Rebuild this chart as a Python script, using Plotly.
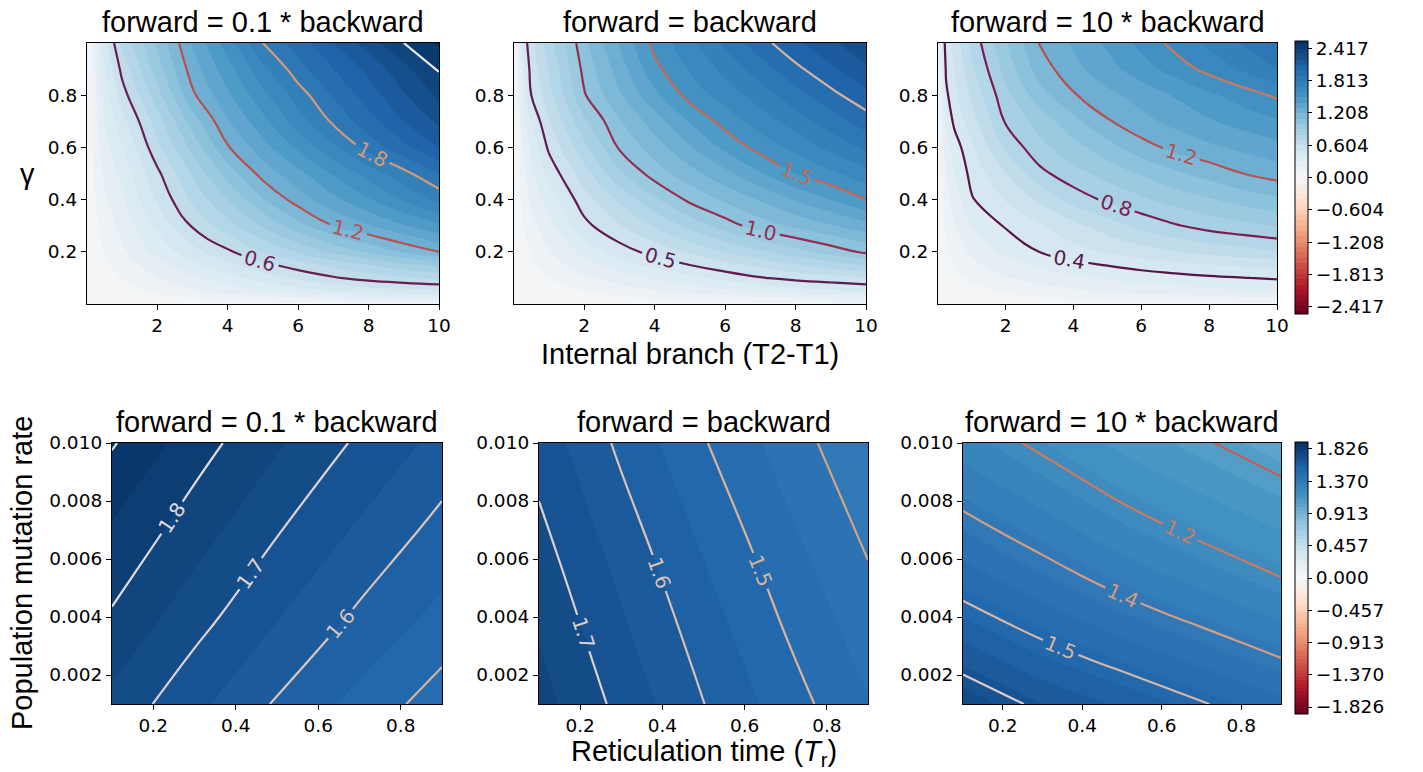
import plotly.graph_objects as go

W, H = 1423, 772

# ---------------- data ----------------
top_x = [0.01, 0.05, 0.25, 0.5, 1, 2, 3, 4, 5, 6, 7, 8, 9, 10]
top_gamma = [0.001, 0.05, 0.1, 0.15, 0.2, 0.3, 0.4, 0.5, 0.6, 0.7, 0.8, 0.9, 0.999]

z_top_tenth = [
    [0.0005, 0.001, 0.003, 0.005, 0.01, 0.02, 0.03, 0.04, 0.05, 0.06, 0.07, 0.08, 0.09, 0.10],
    [0.0005, 0.002, 0.013, 0.03, 0.06, 0.12, 0.18, 0.24, 0.30, 0.35, 0.40, 0.44, 0.46, 0.47],
    [0.001, 0.005, 0.025, 0.05, 0.10, 0.19, 0.28, 0.36, 0.44, 0.52, 0.585, 0.64, 0.68, 0.72],
    [0.002, 0.007, 0.04, 0.075, 0.14, 0.26, 0.37, 0.47, 0.57, 0.65, 0.73, 0.80, 0.87, 0.93],
    [0.002, 0.01, 0.05, 0.10, 0.18, 0.33, 0.46, 0.58, 0.70, 0.81, 0.92, 1.02, 1.11, 1.20],
    [0.003, 0.013, 0.075, 0.14, 0.23, 0.42, 0.61, 0.76, 0.91, 1.06, 1.20, 1.29, 1.39, 1.48],
    [0.004, 0.015, 0.10, 0.18, 0.28, 0.51, 0.72, 0.90, 1.09, 1.25, 1.37, 1.49, 1.61, 1.73],
    [0.004, 0.017, 0.12, 0.22, 0.33, 0.575, 0.81, 1.04, 1.24, 1.37, 1.51, 1.64, 1.77, 1.90],
    [0.005, 0.02, 0.14, 0.26, 0.39, 0.67, 0.93, 1.19, 1.36, 1.52, 1.68, 1.84, 1.97, 2.10],
    [0.006, 0.022, 0.16, 0.30, 0.46, 0.75, 1.05, 1.29, 1.47, 1.65, 1.82, 1.96, 2.10, 2.22],
    [0.006, 0.025, 0.18, 0.34, 0.55, 0.86, 1.18, 1.38, 1.57, 1.75, 1.91, 2.05, 2.19, 2.32],
    [0.008, 0.03, 0.20, 0.38, 0.63, 0.95, 1.25, 1.46, 1.67, 1.86, 2.00, 2.13, 2.27, 2.41],
    [0.01, 0.04, 0.22, 0.45, 0.72, 1.02, 1.31, 1.55, 1.80, 1.95, 2.10, 2.25, 2.40, 2.52],
]

z_top_equal = [
    [0.0005, 0.001, 0.003, 0.005, 0.01, 0.02, 0.03, 0.04, 0.05, 0.055, 0.065, 0.075, 0.08, 0.09],
    [0.0005, 0.002, 0.012, 0.025, 0.05, 0.10, 0.14, 0.19, 0.23, 0.27, 0.31, 0.35, 0.38, 0.40],
    [0.0015, 0.006, 0.03, 0.055, 0.10, 0.18, 0.25, 0.31, 0.37, 0.43, 0.49, 0.53, 0.56, 0.59],
    [0.0025, 0.01, 0.045, 0.08, 0.15, 0.26, 0.35, 0.43, 0.50, 0.57, 0.63, 0.69, 0.75, 0.81],
    [0.003, 0.013, 0.06, 0.11, 0.19, 0.33, 0.45, 0.536, 0.617, 0.70, 0.78, 0.86, 0.94, 1.02],
    [0.005, 0.02, 0.09, 0.16, 0.27, 0.47, 0.59, 0.71, 0.83, 0.95, 1.05, 1.12, 1.19, 1.26],
    [0.006, 0.025, 0.12, 0.22, 0.35, 0.555, 0.717, 0.88, 1.024, 1.12, 1.21, 1.31, 1.40, 1.50],
    [0.008, 0.03, 0.16, 0.28, 0.43, 0.66, 0.88, 1.05, 1.16, 1.27, 1.39, 1.50, 1.58, 1.66],
    [0.01, 0.04, 0.20, 0.33, 0.52, 0.77, 1.014, 1.15, 1.29, 1.425, 1.54, 1.63, 1.73, 1.82],
    [0.012, 0.05, 0.25, 0.41, 0.59, 0.88, 1.09, 1.25, 1.41, 1.54, 1.65, 1.75, 1.85, 1.95],
    [0.015, 0.06, 0.31, 0.50, 0.66, 0.99, 1.185, 1.376, 1.538, 1.645, 1.75, 1.86, 1.97, 2.07],
    [0.018, 0.07, 0.36, 0.54, 0.71, 1.03, 1.25, 1.47, 1.61, 1.73, 1.85, 1.975, 2.08, 2.18],
    [0.02, 0.08, 0.42, 0.57, 0.76, 1.07, 1.31, 1.53, 1.67, 1.82, 1.96, 2.08, 2.18, 2.28],
]

z_top_ten = [
    [0.0005, 0.002, 0.007, 0.012, 0.02, 0.03, 0.04, 0.045, 0.05, 0.055, 0.06, 0.065, 0.07, 0.075],
    [0.003, 0.01, 0.03, 0.05, 0.07, 0.11, 0.15, 0.18, 0.21, 0.235, 0.255, 0.275, 0.295, 0.31],
    [0.004, 0.013, 0.045, 0.08, 0.12, 0.19, 0.24, 0.28, 0.31, 0.34, 0.36, 0.38, 0.395, 0.41],
    [0.006, 0.02, 0.06, 0.11, 0.17, 0.26, 0.32, 0.365, 0.405, 0.44, 0.47, 0.495, 0.52, 0.54],
    [0.008, 0.025, 0.08, 0.14, 0.22, 0.32, 0.40, 0.46, 0.51, 0.555, 0.595, 0.63, 0.66, 0.69],
    [0.012, 0.04, 0.12, 0.19, 0.30, 0.41, 0.49, 0.57, 0.65, 0.73, 0.79, 0.84, 0.875, 0.905],
    [0.016, 0.05, 0.16, 0.25, 0.39, 0.505, 0.619, 0.74, 0.82, 0.88, 0.94, 0.99, 1.04, 1.08],
    [0.022, 0.07, 0.20, 0.30, 0.433, 0.596, 0.77, 0.865, 0.94, 1.01, 1.08, 1.14, 1.20, 1.245],
    [0.03, 0.09, 0.25, 0.35, 0.48, 0.72, 0.87, 0.965, 1.06, 1.16, 1.23, 1.28, 1.325, 1.365],
    [0.04, 0.12, 0.32, 0.426, 0.557, 0.81, 0.937, 1.07, 1.19, 1.27, 1.33, 1.39, 1.44, 1.49],
    [0.05, 0.15, 0.38, 0.468, 0.62, 0.87, 1.06, 1.19, 1.275, 1.34, 1.41, 1.48, 1.55, 1.62],
    [0.06, 0.18, 0.417, 0.504, 0.678, 0.937, 1.147, 1.269, 1.361, 1.453, 1.545, 1.635, 1.72, 1.80],
    [0.10, 0.25, 0.44, 0.536, 0.73, 0.985, 1.205, 1.314, 1.42, 1.53, 1.634, 1.72, 1.81, 1.90],
]

bot_tr = [0.1, 0.3, 0.5, 0.7, 0.9]
bot_mu_tenth = [0.001, 0.004, 0.007, 0.010]
bot_mu_equal = [0.001, 0.0055, 0.010]
bot_mu_ten = [0.001, 0.0025, 0.004, 0.0055, 0.007, 0.0085, 0.010]

z_bot_tenth = [
    [1.735, 1.664, 1.594, 1.534, 1.474],
    [1.794, 1.720, 1.653, 1.590, 1.535],
    [1.844, 1.774, 1.704, 1.643, 1.583],
    [1.905, 1.823, 1.756, 1.691, 1.634],
]
z_bot_equal = [
    [1.770, 1.685, 1.601, 1.525, 1.453],
    [1.726, 1.639, 1.555, 1.477, 1.405],
    [1.679, 1.589, 1.504, 1.428, 1.356],
]
z_bot_ten = [
    [1.735, 1.650, 1.590, 1.526, 1.465],
    [1.639, 1.559, 1.497, 1.436, 1.375],
    [1.549, 1.477, 1.409, 1.350, 1.293],
    [1.471, 1.400, 1.331, 1.273, 1.213],
    [1.399, 1.330, 1.261, 1.200, 1.149],
    [1.333, 1.266, 1.195, 1.140, 1.084],
    [1.272, 1.202, 1.135, 1.079, 1.023],
]

panel_titles = ["forward = 0.1 * backward", "forward = backward", "forward = 10 * backward"]

levels_top_tenth = [0.6, 1.2, 1.8, 2.4]
levels_top_equal = [0.5, 1.0, 1.5, 2.0]
levels_top_ten = [0.4, 0.8, 1.2, 1.6]
levels_bot_tenth = [1.5, 1.6, 1.7, 1.8, 1.9]
levels_bot_equal = [1.4, 1.5, 1.6, 1.7]
levels_bot_ten = [1.07, 1.22, 1.37, 1.52, 1.67]

top_cbar_ticks = [-2.417, -1.813, -1.208, -0.604, 0.0, 0.604, 1.208, 1.813, 2.417]
bot_cbar_ticks = [-1.826, -1.370, -0.913, -0.457, 0.0, 0.457, 0.913, 1.370, 1.826]

top_xticks = [2, 4, 6, 8, 10]
top_yticks = [0.2, 0.4, 0.6, 0.8]
bot_xticks = [0.2, 0.4, 0.6, 0.8]
bot_yticks = [0.002, 0.004, 0.006, 0.008, 0.010]

# ---------------- styles ----------------
RDBU = [[0.0, '#67001f'], [0.1, '#b2182b'], [0.2, '#d6604d'], [0.3, '#f4a582'],
        [0.4, '#fddbc7'], [0.5, '#f7f7f7'], [0.6, '#d1e5f0'], [0.7, '#92c5de'],
        [0.8, '#4393c3'], [0.9, '#2166ac'], [1.0, '#053061']]

line_colors = {
    'tt': ['#6a1f52', '#b8504f', '#d49a77', '#efebef'],
    'te': ['#611c50', '#952f52', '#c46955', '#d9b4a0'],
    'tn': ['#571646', '#7a1e50', '#b8504f', '#cc7a5e'],
    'bt': ['#d6b2a0', '#dcc4ba', '#e0d2d2', '#e0d9e0', '#e4e0e8'],
    'be': ['#d3a386', '#d8b39c', '#dcc2b4', '#e0d0cc'],
    'bn': ['#c4614e', '#cd7a5f', '#d49c80', '#d9b6a4', '#ddcbc6'],
}
label_show = {
    'tt': [True, True, True, False],
    'te': [True, True, True, True],
    'tn': [True, True, True, True],
    'bt': [False, True, True, True, False],
    'be': [True, True, True, True],
    'bn': [True, True, True, True, True],
}
# smaller label font for the short contour segments so that a label fits on them
label_size = {
    'tt': [20, 20, 20, 20],
    'te': [20, 20, 20, 16],
    'tn': [20, 20, 20, 16],
    'bt': [20, 20, 20, 20, 20],
    'be': [16, 20, 20, 20],
    'bn': [16, 20, 20, 20, 16],
}

TICKFONT = dict(family='DejaVu Sans', size=18.5, color='black')
TEXTFONT = 'Liberation Sans, Arial, sans-serif'

# panel boxes in pixels: (left, right, top, bottom)
boxes = {
    'tt': (87, 439, 43, 304), 'te': (514, 866, 43, 304), 'tn': (938, 1277, 43, 304),
    'bt': (112, 442, 443, 704), 'be': (539, 868, 443, 704), 'bn': (963, 1281, 443, 704),
}
panels = [
    ('tt', top_x, top_gamma, z_top_tenth, levels_top_tenth, 'top'),
    ('te', top_x, top_gamma, z_top_equal, levels_top_equal, 'top'),
    ('tn', top_x, top_gamma, z_top_ten, levels_top_ten, 'top'),
    ('bt', bot_tr, bot_mu_tenth, z_bot_tenth, levels_bot_tenth, 'bot'),
    ('be', bot_tr, bot_mu_equal, z_bot_equal, levels_bot_equal, 'bot'),
    ('bn', bot_tr, bot_mu_ten, z_bot_ten, levels_bot_ten, 'bot'),
]

fig = go.Figure()
layout = dict(width=W, height=H,
              margin=dict(l=0, r=0, t=0, b=0, pad=0, autoexpand=False),
              paper_bgcolor='white', plot_bgcolor='white', showlegend=False)


def cbar(ticks, top_px, bot_px):
    return dict(x=1295 / W, xanchor='left', xpad=0, ypad=0,
                y=1 - (top_px + bot_px) / 2 / H, yanchor='middle',
                len=bot_px - top_px, lenmode='pixels', thickness=13,
                outlinewidth=1, outlinecolor='black',
                ticks='outside', ticklen=4, tickwidth=1, tickcolor='black',
                tickvals=ticks,
                ticktext=[f"{v:.3f}".replace('-', '\u2212') for v in ticks],
                tickfont=TICKFONT)


for i, (key, xs, ys, z, levels, row) in enumerate(panels):
    n = '' if i == 0 else str(i + 1)
    xa, ya = 'x' + n, 'y' + n
    l, r, t, b = boxes[key]
    if row == 'top':
        start, end, size = -2.5, 2.5, 0.1
        show = key == 'tn'
        cb = cbar(top_cbar_ticks, 41, 314)
    else:
        start, end, size = -1.9, 1.9, 0.05
        show = key == 'bn'
        cb = cbar(bot_cbar_ticks, 442, 714)
    fig.add_trace(go.Contour(
        x=xs, y=ys, z=z, colorscale=RDBU, autocontour=False,
        contours=dict(start=start, end=end, size=size, coloring='fill', showlines=False),
        line=dict(width=0, smoothing=1.3), showscale=show, colorbar=cb,
        hoverinfo='skip', xaxis=xa, yaxis=ya))
    for lev, col, lab, lsz in zip(levels, line_colors[key], label_show[key], label_size[key]):
        fig.add_trace(go.Contour(
            x=xs, y=ys, z=z, autocontour=False, showscale=False,
            contours=dict(start=lev, end=lev, size=1, coloring='none',
                          showlabels=lab, labelformat='.1f',
                          labelfont=dict(family='DejaVu Sans', size=lsz, color=col)),
            line=dict(color=col, width=2.2, smoothing=1.3),
            hoverinfo='skip', xaxis=xa, yaxis=ya))

    axcommon = dict(showline=True, mirror=True, linecolor='black', linewidth=1.2,
                    ticks='outside', ticklen=5, tickwidth=1.2, tickcolor='black',
                    showgrid=False, zeroline=False, tickfont=TICKFONT, automargin=False)
    if row == 'top':
        xr, yr = [top_x[0], top_x[-1]], [top_gamma[0], top_gamma[-1]]
        xt, yt, yfmt = top_xticks, top_yticks, None
    else:
        xr, yr = [bot_tr[0], bot_tr[-1]], [ys[0], ys[-1]]
        xt, yt, yfmt = bot_xticks, bot_yticks, '.3f'
    xkey = 'xaxis' + n
    ykey = 'yaxis' + n
    layout[xkey] = dict(domain=[l / W, r / W], anchor=ya, range=xr, tickvals=xt, **axcommon)
    yd = dict(domain=[1 - b / H, 1 - t / H], anchor=xa, range=yr, tickvals=yt, **axcommon)
    if yfmt:
        yd['tickformat'] = yfmt
    layout[ykey] = yd

fig.update_layout(**layout)


def ann(text, px, py, size=29, angle=0):
    fig.add_annotation(text=text, x=px / W, y=1 - py / H, xref='paper', yref='paper',
                       xanchor='center', yanchor='middle', showarrow=False, textangle=angle,
                       font=dict(family=TEXTFONT, size=size, color='black'))


for key, title in zip(['tt', 'te', 'tn'], panel_titles):
    l, r, t, b = boxes[key]
    ann(title, (l + r) / 2, 22)
for key, title in zip(['bt', 'be', 'bn'], panel_titles):
    l, r, t, b = boxes[key]
    ann(title, (l + r) / 2, 422)

ann('Internal branch (T2-T1)', 690, 354)
ann('Reticulation time (<i>T</i><sub>r</sub>)', 704, 753)
ann('\u03b3', 27, 173.5)
ann('Population mutation rate', 22, 573, angle=-90)

fig.write_html(
    'out.html',
    config={'displayModeBar': False},
    post_script=(
        "document.documentElement.style.margin='0';"
        "document.documentElement.style.overflow='hidden';"
        "document.body.style.margin='0';"
        "document.body.style.padding='0';"
        "document.body.style.overflow='hidden';"
    ),
)
